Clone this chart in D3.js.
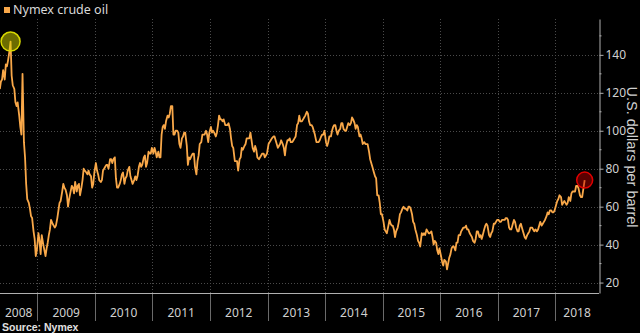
<!DOCTYPE html>
<html>
<head>
<meta charset="utf-8">
<script src="https://cdn.jsdelivr.net/npm/d3@7/dist/d3.min.js"></script>
<style>
  html, body { margin: 0; padding: 0; background: #000; }
  svg { display: block; }
</style>
</head>
<body>
<svg id="chart" width="640" height="333"></svg>
<script>
// Nymex crude oil, USD per barrel: four weekly readings per month (days 7, 14, 21, 28)
const months = [
  "2008-05","2008-06","2008-07","2008-08","2008-09","2008-10","2008-11","2008-12",
  "2009-01","2009-02","2009-03","2009-04","2009-05","2009-06","2009-07","2009-08","2009-09","2009-10","2009-11","2009-12",
  "2010-01","2010-02","2010-03","2010-04","2010-05","2010-06","2010-07","2010-08","2010-09","2010-10","2010-11","2010-12",
  "2011-01","2011-02","2011-03","2011-04","2011-05","2011-06","2011-07","2011-08","2011-09","2011-10","2011-11","2011-12",
  "2012-01","2012-02","2012-03","2012-04","2012-05","2012-06","2012-07","2012-08","2012-09","2012-10","2012-11","2012-12",
  "2013-01","2013-02","2013-03","2013-04","2013-05","2013-06","2013-07","2013-08","2013-09","2013-10","2013-11","2013-12",
  "2014-01","2014-02","2014-03","2014-04","2014-05","2014-06","2014-07","2014-08","2014-09","2014-10","2014-11","2014-12",
  "2015-01","2015-02","2015-03","2015-04","2015-05","2015-06","2015-07","2015-08","2015-09","2015-10","2015-11","2015-12",
  "2016-01","2016-02","2016-03","2016-04","2016-05","2016-06","2016-07","2016-08","2016-09","2016-10","2016-11","2016-12",
  "2017-01","2017-02","2017-03","2017-04","2017-05","2017-06","2017-07","2017-08","2017-09","2017-10","2017-11","2017-12",
  "2018-01","2018-02","2018-03","2018-04","2018-05","2018-06","2018-07"
];
const sampleDays = [7, 14, 21, 28];
const prices = [
  [122,126,127,132],[127,135,134,137],[142,147,129,124],[122,115,113,115],
  [108,102,98,130],[94,86,72,64],[62,59,55,54],[47,43,34,37],
  [46,42,35,45],[40,37,34,38],[41,45,48,53],[51,50,49,50],[54,58,62,63],[68,72,70,69],
  [66,60,64,67],[71,70,67,73],[68,71,72,66],[70,74,80,79],[78,77,79,77],[76,70,72,78],
  [83,79,77,74],[73,74,79,80],[81,82,82,80],[85,85,83,85],[86,75,70,70],[72,74,77,78],
  [72,75,76,79],[81,76,74,72],[74,76,74,76],[81,83,81,82],[86,87,81,83],[89,88,88,91],
  [88,91,89,86],[89,86,86,98],[102,103,101,105],[108,107,109,113],[113,98,98,100],[100,99,93,91],
  [96,97,99,99],[92,82,86,85],[87,88,88,81],[77,84,87,93],[94,98,98,98],[100,98,94,99],
  [102,99,100,99],[97,99,103,108],[106,106,105,106],[103,103,103,104],[101,96,92,91],[84,84,84,79],
  [85,86,91,90],[92,93,96,96],[96,99,95,91],[89,92,90,86],[85,86,87,88],[88,86,87,88],
  [93,94,95,96],[97,97,95,93],[91,92,93,95],[93,91,87,92],[95,95,96,94],[94,95,96,97],
  [103,104,108,105],[105,106,107,108],[110,109,105,103],[103,102,100,98],[94,94,94,95],[97,98,98,100],
  [94,92,94,97],[97,100,102,103],[103,100,98,100],[101,104,104,101],[100,100,102,104],[103,104,107,106],
  [104,101,103,102],[97,98,96,93],[94,93,93,93],[89,85,83,81],[78,76,75,66],[66,62,56,56],
  [52,48,47,46],[50,53,51,50],[50,48,44,47],[49,52,56,57],[59,60,59,59],[58,60,60,59],
  [56,52,51,48],[45,42,41,39],[46,45,46,45],[48,47,46,46],[47,44,40,42],[41,37,35,38],
  [34,31,29,32],[31,27,30,33],[35,38,39,39],[37,41,41,45],[45,47,48,49],[49,50,48,48],
  [46,45,44,42],[41,43,47,47],[44,45,43,45],[48,50,51,50],[45,44,46,47],[51,51,52,53],
  [53,52,52,53],[53,53,54,54],[53,49,48,48],[51,53,52,49],[47,47,50,51],[48,46,44,43],
  [45,46,47,49],[49,48,47,48],[47,48,50,52],[50,51,52,53],[55,57,56,58],[58,57,57,58],
  [61,63,64,66],[65,61,62,63],[62,61,62,65],[63,67,68,68],[68,71,71,70],[66,65,65,69],
  [74]
];
const yearLabels = ["2008","2009","2010","2011","2012","2013","2014","2015","2016","2017","2018"];
const yTicks = [20, 40, 60, 80, 100, 120, 140];
const yMinorTicks = [30, 50, 70, 90, 110, 130, 150];
const seriesName = "Nymex crude oil";
const axisTitle = "U.S. dollars per barrel";
const sourceNote = "Source: Nymex";

// Build dated points from the monthly rows
const data = [];
months.forEach((m, i) => {
  const [yy, mm] = m.split("-").map(Number);
  prices[i].forEach((v, j) => data.push({ date: new Date(yy, mm - 1, sampleDays[j]), value: v }));
});

const svg = d3.select("#chart");
const plot = { left: 0, right: 599, top: 19, bottom: 293 };

const x = d3.scaleTime()
  .domain([new Date(2008, 4, 8), new Date(2018, 9, 6)])
  .range([plot.left, plot.right]);
const y = d3.scaleLinear()
  .domain([14.5, 158.9])
  .range([plot.bottom, plot.top]);

const font = "'Noto Sans', 'Open Sans', sans-serif";
const yearStarts = yearLabels.map(s => new Date(+s, 0, 1));

svg.append("defs").append("clipPath").attr("id", "plotclip")
  .append("rect").attr("x", plot.left).attr("y", plot.top)
  .attr("width", plot.right - plot.left).attr("height", plot.bottom - plot.top);

// Dotted grid
const grid = svg.append("g").attr("stroke", "#4a4a4a").attr("stroke-dasharray", "1,2").attr("stroke-width", 1);
grid.selectAll("line.h").data(yTicks).join("line")
  .attr("x1", plot.left).attr("x2", plot.right)
  .attr("y1", d => Math.round(y(d)) + 0.5).attr("y2", d => Math.round(y(d)) + 0.5);
grid.selectAll("line.v").data(yearStarts.slice(1)).join("line")
  .attr("x1", d => Math.round(x(d)) + 0.5).attr("x2", d => Math.round(x(d)) + 0.5)
  .attr("y1", plot.top).attr("y2", plot.bottom);

// Price line
const line = d3.line().x(d => x(d.date)).y(d => y(d.value));
svg.append("path").datum(data)
  .attr("clip-path", "url(#plotclip)")
  .attr("fill", "none").attr("stroke", "#f9a849").attr("stroke-width", 1.8)
  .attr("stroke-linejoin", "round")
  .attr("d", line);

// Highlight markers: all-time high and latest reading
const peak = data.reduce((a, b) => (b.value > a.value ? b : a));
const last = data[data.length - 1];
svg.append("circle").attr("cx", x(peak.date)).attr("cy", y(peak.value)).attr("r", 9.5)
  .attr("fill", "rgba(215,215,0,0.5)").attr("stroke", "#d8d800").attr("stroke-width", 1.5);
svg.append("circle").attr("cx", x(last.date)).attr("cy", y(last.value)).attr("r", 8)
  .attr("fill", "rgba(200,0,0,0.45)").attr("stroke", "#e00000").attr("stroke-width", 1.5);

// Right value axis
const yAxis = svg.append("g").attr("transform", `translate(${plot.right + 0.5},0)`)
  .call(d3.axisRight(y).tickValues(yTicks).tickSize(4).tickPadding(2).tickSizeOuter(0));
yAxis.select(".domain").attr("stroke", "#b0b0b0");
yAxis.selectAll(".tick line").attr("stroke", "#b0b0b0");
yAxis.selectAll(".tick text").attr("fill", "#d0d0d0").style("font", `12px ${font}`);
svg.append("g").attr("transform", `translate(${plot.right + 0.5},0)`)
  .selectAll("line").data(yMinorTicks).join("line")
  .attr("x1", 0).attr("x2", 2)
  .attr("y1", d => y(d)).attr("y2", d => y(d))
  .attr("stroke", "#b0b0b0");

svg.append("text")
  .attr("transform", `translate(626.5,157) rotate(90)`)
  .attr("text-anchor", "middle")
  .attr("fill", "#d0d0d0")
  .style("font", `14.5px 'Liberation Sans', Arial, sans-serif`)
  .text(axisTitle);

// Bottom axis with year separators
svg.append("line").attr("x1", plot.left).attr("x2", plot.right)
  .attr("y1", plot.bottom + 0.5).attr("y2", plot.bottom + 0.5).attr("stroke", "#b0b0b0");
svg.append("g").selectAll("line").data(yearStarts.slice(1)).join("line")
  .attr("x1", d => Math.round(x(d)) + 0.5).attr("x2", d => Math.round(x(d)) + 0.5)
  .attr("y1", plot.bottom + 1).attr("y2", 321)
  .attr("stroke", "#6a6a6a");
svg.append("g").selectAll("text").data(yearLabels).join("text")
  .attr("x", (d, i) => {
    const a = Math.max(plot.left, x(yearStarts[i]));
    const b = i + 1 < yearStarts.length ? x(yearStarts[i + 1]) : plot.right;
    return (a + Math.min(b, plot.right)) / 2;
  })
  .attr("y", 317)
  .attr("text-anchor", "middle")
  .attr("fill", "#d0d0d0")
  .style("font", `12px ${font}`)
  .text(d => d);

// Legend
svg.append("rect").attr("x", 4).attr("y", 7).attr("width", 6).attr("height", 6).attr("fill", "#f9a849");
svg.append("text").attr("x", 13).attr("y", 14).attr("fill", "#d8d8d8")
  .style("font", `12.5px ${font}`).text(seriesName);

// Source
svg.append("text").attr("x", 2).attr("y", 331).attr("fill", "#e0e0e0")
  .style("font", `bold 10.5px 'Liberation Sans', Arial, sans-serif`).text(sourceNote);
</script>
</body>
</html>
